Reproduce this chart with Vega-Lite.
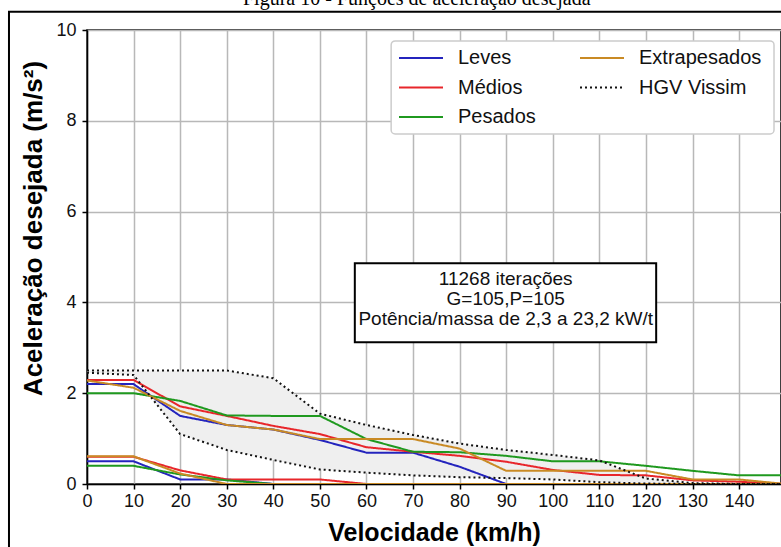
{
  "$schema": "https://vega.github.io/schema/vega-lite/v6.json",
  "autosize": "none",
  "width": 694,
  "height": 454,
  "padding": {"left": 87, "top": 30, "right": 0, "bottom": 63},
  "background": "white",
  "title": {"text": "Figura 10 - Funções de aceleração desejada", "font": "Liberation Serif", "fontSize": 20, "fontWeight": "normal", "color": "black", "anchor": "start", "frame": "group", "dx": 156, "dy": 20, "baseline": "alphabetic", "offset": 6},
  "config": {
    "font": "Liberation Sans",
    "view": {"stroke": "black", "strokeWidth": 1.5},
    "axis": {"grid": true, "gridColor": "#b8b8b8", "gridWidth": 1.5, "domainColor": "black", "domainWidth": 1.5, "tickColor": "black", "tickWidth": 1.5, "tickSize": 5, "labelFont": "Liberation Sans", "labelFontSize": 18, "labelColor": "#111", "titleFont": "Liberation Sans", "titleFontSize": 25, "titleFontWeight": "bold", "titleColor": "black"}
  },
  "datasets": {
    "lines": [
      {"v": 0, "a": 2.2, "s": "Leves", "b": "sup"}, {"v": 10, "a": 2.2, "s": "Leves", "b": "sup"}, {"v": 20, "a": 1.5, "s": "Leves", "b": "sup"}, {"v": 30, "a": 1.3, "s": "Leves", "b": "sup"}, {"v": 40, "a": 1.2, "s": "Leves", "b": "sup"}, {"v": 50, "a": 0.97, "s": "Leves", "b": "sup"}, {"v": 60, "a": 0.69, "s": "Leves", "b": "sup"}, {"v": 70, "a": 0.69, "s": "Leves", "b": "sup"}, {"v": 80, "a": 0.38, "s": "Leves", "b": "sup"}, {"v": 90, "a": 0, "s": "Leves", "b": "sup"}, {"v": 150, "a": 0, "s": "Leves", "b": "sup"},
      {"v": 0, "a": 0.5, "s": "Leves", "b": "inf"}, {"v": 10, "a": 0.5, "s": "Leves", "b": "inf"}, {"v": 20, "a": 0.1, "s": "Leves", "b": "inf"}, {"v": 30, "a": 0.1, "s": "Leves", "b": "inf"}, {"v": 40, "a": 0, "s": "Leves", "b": "inf"}, {"v": 150, "a": 0, "s": "Leves", "b": "inf"},
      {"v": 0, "a": 2.29, "s": "Médios", "b": "sup"}, {"v": 10, "a": 2.29, "s": "Médios", "b": "sup"}, {"v": 20, "a": 1.71, "s": "Médios", "b": "sup"}, {"v": 30, "a": 1.5, "s": "Médios", "b": "sup"}, {"v": 40, "a": 1.28, "s": "Médios", "b": "sup"}, {"v": 50, "a": 1.1, "s": "Médios", "b": "sup"}, {"v": 60, "a": 0.81, "s": "Médios", "b": "sup"}, {"v": 70, "a": 0.71, "s": "Médios", "b": "sup"}, {"v": 80, "a": 0.62, "s": "Médios", "b": "sup"}, {"v": 90, "a": 0.49, "s": "Médios", "b": "sup"}, {"v": 100, "a": 0.31, "s": "Médios", "b": "sup"}, {"v": 110, "a": 0.2, "s": "Médios", "b": "sup"}, {"v": 120, "a": 0.19, "s": "Médios", "b": "sup"}, {"v": 130, "a": 0.08, "s": "Médios", "b": "sup"}, {"v": 140, "a": 0.05, "s": "Médios", "b": "sup"}, {"v": 150, "a": 0, "s": "Médios", "b": "sup"},
      {"v": 0, "a": 0.6, "s": "Médios", "b": "inf"}, {"v": 10, "a": 0.6, "s": "Médios", "b": "inf"}, {"v": 20, "a": 0.3, "s": "Médios", "b": "inf"}, {"v": 30, "a": 0.1, "s": "Médios", "b": "inf"}, {"v": 40, "a": 0.1, "s": "Médios", "b": "inf"}, {"v": 50, "a": 0.1, "s": "Médios", "b": "inf"}, {"v": 60, "a": 0, "s": "Médios", "b": "inf"}, {"v": 150, "a": 0, "s": "Médios", "b": "inf"},
      {"v": 0, "a": 2.0, "s": "Pesados", "b": "sup"}, {"v": 10, "a": 2.0, "s": "Pesados", "b": "sup"}, {"v": 20, "a": 1.83, "s": "Pesados", "b": "sup"}, {"v": 30, "a": 1.51, "s": "Pesados", "b": "sup"}, {"v": 40, "a": 1.5, "s": "Pesados", "b": "sup"}, {"v": 50, "a": 1.5, "s": "Pesados", "b": "sup"}, {"v": 60, "a": 0.99, "s": "Pesados", "b": "sup"}, {"v": 70, "a": 0.71, "s": "Pesados", "b": "sup"}, {"v": 80, "a": 0.7, "s": "Pesados", "b": "sup"}, {"v": 90, "a": 0.62, "s": "Pesados", "b": "sup"}, {"v": 100, "a": 0.5, "s": "Pesados", "b": "sup"}, {"v": 110, "a": 0.5, "s": "Pesados", "b": "sup"}, {"v": 120, "a": 0.4, "s": "Pesados", "b": "sup"}, {"v": 130, "a": 0.29, "s": "Pesados", "b": "sup"}, {"v": 140, "a": 0.19, "s": "Pesados", "b": "sup"}, {"v": 150, "a": 0.19, "s": "Pesados", "b": "sup"},
      {"v": 0, "a": 0.4, "s": "Pesados", "b": "inf"}, {"v": 10, "a": 0.4, "s": "Pesados", "b": "inf"}, {"v": 20, "a": 0.21, "s": "Pesados", "b": "inf"}, {"v": 30, "a": 0.08, "s": "Pesados", "b": "inf"}, {"v": 40, "a": 0, "s": "Pesados", "b": "inf"}, {"v": 150, "a": 0, "s": "Pesados", "b": "inf"},
      {"v": 0, "a": 2.28, "s": "Extrapesados", "b": "sup"}, {"v": 10, "a": 2.12, "s": "Extrapesados", "b": "sup"}, {"v": 20, "a": 1.61, "s": "Extrapesados", "b": "sup"}, {"v": 30, "a": 1.3, "s": "Extrapesados", "b": "sup"}, {"v": 40, "a": 1.2, "s": "Extrapesados", "b": "sup"}, {"v": 50, "a": 0.99, "s": "Extrapesados", "b": "sup"}, {"v": 60, "a": 0.99, "s": "Extrapesados", "b": "sup"}, {"v": 70, "a": 0.99, "s": "Extrapesados", "b": "sup"}, {"v": 80, "a": 0.78, "s": "Extrapesados", "b": "sup"}, {"v": 90, "a": 0.29, "s": "Extrapesados", "b": "sup"}, {"v": 100, "a": 0.29, "s": "Extrapesados", "b": "sup"}, {"v": 110, "a": 0.29, "s": "Extrapesados", "b": "sup"}, {"v": 120, "a": 0.29, "s": "Extrapesados", "b": "sup"}, {"v": 130, "a": 0.1, "s": "Extrapesados", "b": "sup"}, {"v": 140, "a": 0.1, "s": "Extrapesados", "b": "sup"}, {"v": 150, "a": 0, "s": "Extrapesados", "b": "sup"},
      {"v": 0, "a": 0.61, "s": "Extrapesados", "b": "inf"}, {"v": 10, "a": 0.61, "s": "Extrapesados", "b": "inf"}, {"v": 20, "a": 0.23, "s": "Extrapesados", "b": "inf"}, {"v": 30, "a": 0, "s": "Extrapesados", "b": "inf"}, {"v": 150, "a": 0, "s": "Extrapesados", "b": "inf"},
      {"v": 0, "a": 2.5, "s": "HGV Vissim", "b": "sup"}, {"v": 10, "a": 2.5, "s": "HGV Vissim", "b": "sup"}, {"v": 20, "a": 2.5, "s": "HGV Vissim", "b": "sup"}, {"v": 30, "a": 2.5, "s": "HGV Vissim", "b": "sup"}, {"v": 40, "a": 2.33, "s": "HGV Vissim", "b": "sup"}, {"v": 50, "a": 1.55, "s": "HGV Vissim", "b": "sup"}, {"v": 60, "a": 1.3, "s": "HGV Vissim", "b": "sup"}, {"v": 70, "a": 1.08, "s": "HGV Vissim", "b": "sup"}, {"v": 80, "a": 0.89, "s": "HGV Vissim", "b": "sup"}, {"v": 90, "a": 0.75, "s": "HGV Vissim", "b": "sup"}, {"v": 100, "a": 0.64, "s": "HGV Vissim", "b": "sup"}, {"v": 110, "a": 0.52, "s": "HGV Vissim", "b": "sup"}, {"v": 120, "a": 0.12, "s": "HGV Vissim", "b": "sup"}, {"v": 130, "a": 0.02, "s": "HGV Vissim", "b": "sup"}, {"v": 140, "a": 0, "s": "HGV Vissim", "b": "sup"}, {"v": 150, "a": 0, "s": "HGV Vissim", "b": "sup"},
      {"v": 0, "a": 2.45, "s": "HGV Vissim", "b": "inf"}, {"v": 10, "a": 2.4, "s": "HGV Vissim", "b": "inf"}, {"v": 20, "a": 1.1, "s": "HGV Vissim", "b": "inf"}, {"v": 30, "a": 0.75, "s": "HGV Vissim", "b": "inf"}, {"v": 40, "a": 0.53, "s": "HGV Vissim", "b": "inf"}, {"v": 50, "a": 0.32, "s": "HGV Vissim", "b": "inf"}, {"v": 60, "a": 0.25, "s": "HGV Vissim", "b": "inf"}, {"v": 70, "a": 0.19, "s": "HGV Vissim", "b": "inf"}, {"v": 80, "a": 0.15, "s": "HGV Vissim", "b": "inf"}, {"v": 90, "a": 0.13, "s": "HGV Vissim", "b": "inf"}, {"v": 100, "a": 0.1, "s": "HGV Vissim", "b": "inf"}, {"v": 110, "a": 0.04, "s": "HGV Vissim", "b": "inf"}, {"v": 120, "a": 0.01, "s": "HGV Vissim", "b": "inf"}, {"v": 130, "a": 0, "s": "HGV Vissim", "b": "inf"}, {"v": 150, "a": 0, "s": "HGV Vissim", "b": "inf"}
    ],
    "hgv": [
      {"v": 0, "lo": 2.45, "hi": 2.5}, {"v": 10, "lo": 2.4, "hi": 2.5}, {"v": 20, "lo": 1.1, "hi": 2.5}, {"v": 30, "lo": 0.75, "hi": 2.5}, {"v": 40, "lo": 0.53, "hi": 2.33}, {"v": 50, "lo": 0.32, "hi": 1.55}, {"v": 60, "lo": 0.25, "hi": 1.3}, {"v": 70, "lo": 0.19, "hi": 1.08}, {"v": 80, "lo": 0.15, "hi": 0.89}, {"v": 90, "lo": 0.13, "hi": 0.75}, {"v": 100, "lo": 0.1, "hi": 0.64}, {"v": 110, "lo": 0.04, "hi": 0.52}, {"v": 120, "lo": 0.01, "hi": 0.12}, {"v": 130, "lo": 0, "hi": 0.02}, {"v": 140, "lo": 0, "hi": 0}
    ],
    "one": [{}]
  },
  "layer": [
    {
      "data": {"name": "one"},
      "mark": {"type": "rect", "filled": false, "fillOpacity": 0, "stroke": "black", "strokeWidth": 2},
      "encoding": {
        "x": {"datum": -16.75, "type": "quantitative", "scale": {"domain": [0, 149], "nice": false}, "title": "Velocidade (km/h)"},
        "x2": {"datum": 200},
        "y": {"datum": 10.4, "type": "quantitative", "scale": {"domain": [0, 10], "nice": false}, "title": "Aceleração desejada (m/s²)"},
        "y2": {"datum": -3}
      }
    },
    {
      "data": {"name": "hgv"},
      "mark": {"type": "area", "fill": "#efefef", "opacity": 1, "clip": true},
      "encoding": {
        "x": {"field": "v", "type": "quantitative", "title": "Velocidade (km/h)"},
        "y": {"field": "hi", "type": "quantitative", "title": "Aceleração desejada (m/s²)"},
        "y2": {"field": "lo"}
      }
    },
    {
      "data": {"name": "lines"},
      "mark": {"type": "line", "strokeWidth": 2, "clip": true},
      "encoding": {
        "x": {"field": "v", "type": "quantitative", "title": "Velocidade (km/h)",
              "axis": {"grid": true, "values": [0, 10, 20, 30, 40, 50, 60, 70, 80, 90, 100, 110, 120, 130, 140], "labelPadding": 3, "titleX": 347, "titleY": 48, "titleBaseline": "middle", "labelFlush": false}},
        "y": {"field": "a", "type": "quantitative", "title": "Aceleração desejada (m/s²)",
              "axis": {"grid": true, "values": [0, 2, 4, 6, 8, 10], "labelPadding": 6, "titleX": -54, "titleY": 198, "titleBaseline": "middle", "titleAlign": "center", "titleAngle": -90, "titleFontSize": 26}},
        "color": {"field": "s", "type": "nominal", "title": null,
                  "scale": {"domain": ["Leves", "Médios", "Pesados", "Extrapesados", "HGV Vissim"], "range": ["#2424bd", "#e8262b", "#1f991f", "#c98a24", "#111111"]},
                  "legend": {"orient": "none", "legendX": 322, "legendY": 16, "columns": 2, "symbolType": "M-2,0H2", "symbolSize": 484, "symbolStrokeWidth": 2, "labelFontSize": 20, "labelFont": "Liberation Sans", "labelColor": "#111", "labelOffset": 25, "columnPadding": 40, "rowPadding": 7.5, "padding": 0, "strokeColor": null, "fillColor": null}},
        "strokeDash": {"field": "s", "type": "nominal",
                  "scale": {"domain": ["Leves", "Médios", "Pesados", "Extrapesados", "HGV Vissim"], "range": [[1, 0], [1, 0], [1, 0], [1, 0], [2, 3]]}},
        "detail": {"field": "b"}
      }
    },
    {
      "data": {"name": "one"},
      "mark": {"type": "rect", "fill": "white", "stroke": "#cccccc", "strokeWidth": 1.5, "cornerRadius": 4},
      "encoding": {
        "x": {"datum": 65.3, "type": "quantitative", "title": "Velocidade (km/h)"},
        "x2": {"datum": 147.5},
        "y": {"datum": 9.76, "type": "quantitative", "title": "Aceleração desejada (m/s²)"},
        "y2": {"datum": 7.71}
      }
    },
    {
      "data": {"name": "one"},
      "mark": {"type": "rect", "fill": "white", "stroke": "black", "strokeWidth": 2},
      "encoding": {
        "x": {"datum": 57.5, "type": "quantitative", "title": "Velocidade (km/h)"},
        "x2": {"datum": 122.2},
        "y": {"datum": 4.86, "type": "quantitative", "title": "Aceleração desejada (m/s²)"},
        "y2": {"datum": 3.12}
      }
    },
    {
      "data": {"name": "one"},
      "mark": {"type": "text", "font": "Liberation Sans", "fontSize": 19, "lineHeight": 20, "align": "center", "baseline": "middle", "color": "#111"},
      "encoding": {
        "x": {"datum": 89.9, "type": "quantitative", "title": "Velocidade (km/h)"},
        "y": {"datum": 4.52, "type": "quantitative", "title": "Aceleração desejada (m/s²)"},
        "text": {"value": ["11268 iterações", "G=105,P=105", "Potência/massa de 2,3 a 23,2 kW/t"]}
      }
    }
  ]
}
